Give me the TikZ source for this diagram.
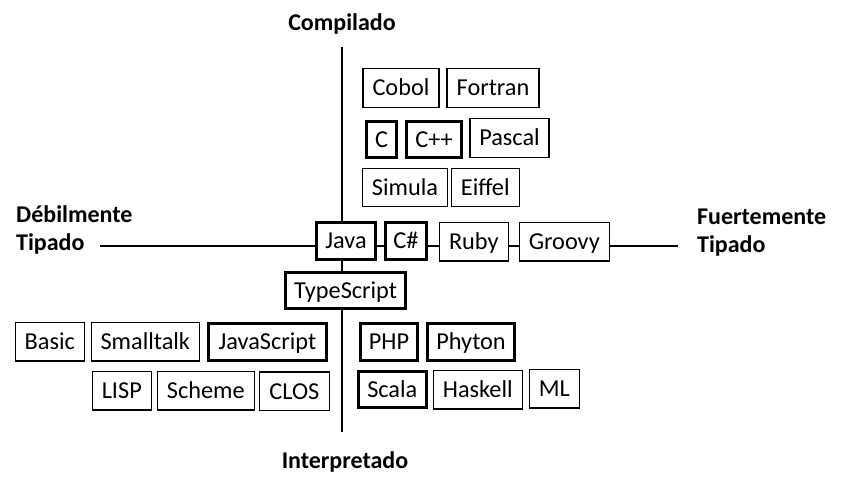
\documentclass[tikz,border=0pt]{standalone}
\usepackage{fontspec}
\setmainfont{Carlito}
\begin{document}
\begin{tikzpicture}[x=1pt,y=-1pt,
  lang/.style={draw=black, fill=white, line width=1.3pt, inner sep=0pt,
    minimum height=38.5pt, text height=16.8pt, text depth=1pt,
    font=\fontsize{24.3}{29}\selectfont},
  major/.style={lang, line width=3pt},
  axislabel/.style={font=\bfseries\fontsize{24}{28.5}\selectfont, inner sep=0pt},
  axis/.style={line width=2pt}]
\useasboundingbox (0,0) rectangle (841,490);

% axis end points
\coordinate (top) at (342,47);
\coordinate (bottom) at (342,432);
\coordinate (left) at (100,246);
\coordinate (right) at (678,246);
\draw[axis] (top) -- (bottom);
\draw[axis] (left) -- (right);

% axis labels
\node[axislabel, anchor=base] (comp) at (342,30.7) {Compilado};
\node[axislabel, anchor=base] (interp) at (345,468.3) {Interpretado};
\node[axislabel, anchor=west, align=left] (weak) at (16,230) {Débilmente\\Tipado};
\node[axislabel, anchor=west, align=left] (strong) at (697,232.5) {Fuertemente\\Tipado};

% compiled languages
\node[lang, minimum width=76pt] (cobol) at (401,88) {Cobol};
\node[lang, minimum width=92pt] (fortran) at (493,88) {Fortran};
\node[major, minimum width=30pt, minimum height=36.5pt] (c) at (381.5,139.5) {C};
\node[major, minimum width=55pt, minimum height=36.5pt] (cpp) at (434,139.5) {C++};
\node[lang, minimum width=79pt] (pascal) at (509.5,138) {Pascal};
\node[lang, minimum width=84.5pt] (simula) at (405,187.5) {Simula};
\node[lang, minimum width=68pt] (eiffel) at (485.3,187.5) {Eiffel};

% on the typing axis
\node[major, minimum width=59pt, minimum height=37pt] (java) at (346,241) {Java};
\node[major, minimum width=41pt, minimum height=37pt] (csharp) at (406,241) {C\#};
\node[lang, minimum width=69pt] (ruby) at (473.8,241.6) {Ruby};
\node[lang, minimum width=90pt] (groovy) at (564.3,241.6) {Groovy};
\node[major, minimum width=120pt, minimum height=36.5pt] (ts) at (345.6,290.3) {TypeScript};

% interpreted, weakly typed
\node[lang, minimum width=69pt] (basic) at (49.8,341.8) {Basic};
\node[lang, minimum width=108pt] (smalltalk) at (145.3,341.8) {Smalltalk};
\node[major, minimum width=118.5pt, minimum height=37.5pt] (js) at (267.5,342) {JavaScript};
\node[lang, minimum width=59pt] (lisp) at (121.8,390.6) {LISP};
\node[lang, minimum width=97pt] (scheme) at (205.8,390.6) {Scheme};
\node[lang, minimum width=70pt] (clos) at (294.3,391.2) {CLOS};

% interpreted, strongly typed
\node[major, minimum width=57pt, minimum height=36.5pt] (php) at (389,342) {PHP};
\node[major, minimum width=87pt, minimum height=36.5pt] (phyton) at (471,342) {Phyton};
\node[major, minimum width=67.5pt, minimum height=36.5pt] (scala) at (392.3,389.7) {Scala};
\node[lang, minimum width=89pt] (haskell) at (477.8,389.7) {Haskell};
\node[lang, minimum width=50pt] (ml) at (554.3,388.8) {ML};
\end{tikzpicture}
\end{document}
